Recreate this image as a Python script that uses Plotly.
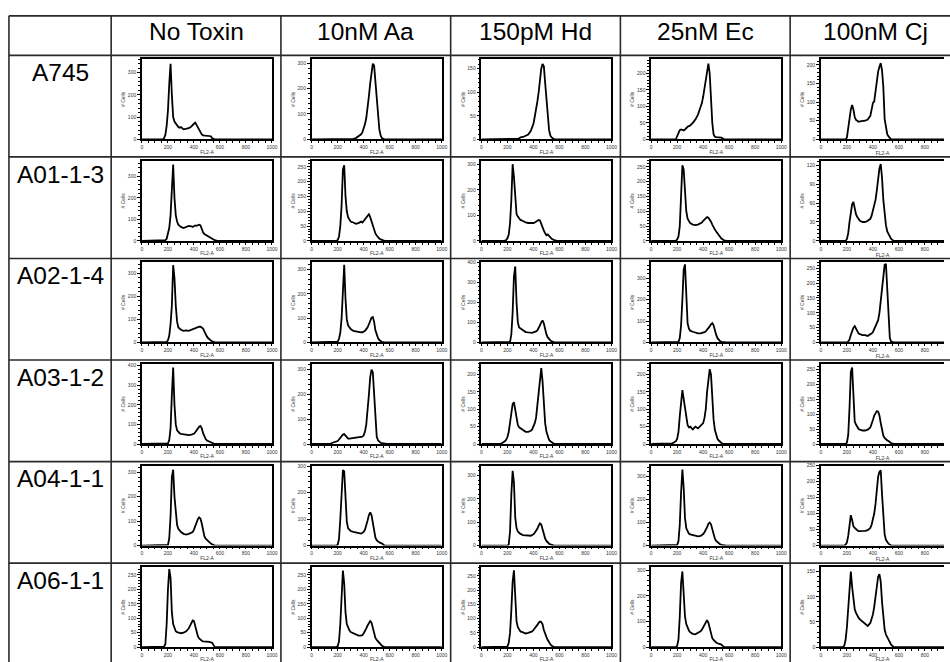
import plotly.graph_objects as go

# ---------------- data ----------------
TREATMENTS = ["No Toxin", "10nM Aa", "150pM Hd", "25nM Ec", "100nM Cj"]
CLONES = ["A745", "A01-1-3", "A02-1-4", "A03-1-2", "A04-1-1", "A06-1-1"]

# FL2-A channel positions shared by all histograms
FL2 = [0, 140, 160, 170, 180, 190, 200, 210, 220, 230,
       240, 250, 260, 270, 280, 290, 300, 320, 340, 360,
       380, 390, 400, 410, 420, 430, 440, 450, 460, 470,
       480, 490, 500, 510, 520, 530, 540, 560, 580, 1000]

# "# Cells" per clone, one list per treatment (same order as TREATMENTS)
A745 = [
    [0,0,0,5,20,60,130,250,340,200, 100,80,70,62,55,52,55,45,48,50, 58,62,70,75,65,50,40,30,22,18, 17,16,15,15,15,14,5,0,0,0],
    [0,0,0,0,0,0,0,0,0,0, 0,0,0,0,0,0,0,2,5,12, 20,28,42,60,85,120,170,220,270,298, 290,230,150,80,40,15,5,0,0,0],
    [0,0,0,0,0,0,0,0,0,0, 0,0,0,0,1,2,4,5,7,10, 18,25,33,48,62,80,100,125,150,160, 155,120,80,45,20,8,4,0,0,0],
    [0,0,0,0,0,0,10,22,28,30, 28,27,30,35,38,40,42,50,60,75, 95,110,130,155,185,215,230,200,120,50, 15,8,7,6,5,5,5,0,0,0],
    [0,0,0,0,0,0,5,25,55,80, 92,80,60,52,48,47,48,48,50,53, 63,80,98,102,130,165,182,195,205,185, 140,55,28,14,8,3,0,0,0,0],
]
A01_1_3 = [
    [0,0,0,0,3,10,30,60,120,250, 355,200,120,90,75,70,65,60,65,70, 68,65,68,72,70,72,75,72,55,40, 32,28,25,20,15,12,8,3,0,0],
    [0,0,0,0,0,0,3,15,50,120, 240,255,150,100,80,72,65,62,58,60, 65,62,68,72,78,85,90,80,65,50, 35,25,18,12,8,5,3,0,0,0],
    [0,0,0,0,0,3,10,25,70,160, 300,250,150,105,95,88,82,78,72,70, 70,68,70,72,75,78,82,80,65,50, 40,30,22,25,18,12,8,3,0,0],
    [0,0,0,0,0,0,5,15,50,150, 255,240,150,100,75,65,60,55,53,55, 58,62,68,72,78,80,78,72,65,55, 45,38,32,25,18,12,8,2,0,0],
    [0,0,0,0,0,0,3,12,30,45, 58,62,50,42,38,35,32,30,30,32, 35,40,48,55,65,80,100,115,122,100, 65,40,25,15,10,6,3,0,0,0],
]
A02_1_4 = [
    [0,0,0,0,0,2,10,30,80,160, 335,280,160,90,65,58,55,50,52,50, 55,58,60,62,65,65,68,68,65,60, 48,35,25,18,12,8,5,0,0,0],
    [0,0,0,0,0,0,3,15,40,100, 220,320,180,95,70,60,55,48,45,42, 42,42,45,48,55,62,75,90,102,105, 85,50,30,18,10,5,2,0,0,0],
    [0,0,0,0,0,0,0,0,3,40, 150,330,380,200,100,75,70,60,52,50, 48,48,50,52,55,60,70,85,100,110, 95,65,40,25,15,10,5,0,0,0],
    [0,0,0,0,0,0,0,3,20,80, 200,340,365,200,90,65,55,50,45,42, 42,43,45,48,52,58,65,75,85,90, 80,55,35,20,12,6,3,0,0,0],
    [0,0,0,0,0,0,0,3,10,25, 40,50,55,45,35,30,28,25,25,22, 28,30,35,45,55,60,75,100,140,190, 240,262,265,180,60,15,3,0,0,0],
]
A03_1_2 = [
    [0,0,0,0,0,0,3,20,80,250, 390,200,100,70,60,55,52,50,48,45, 48,50,52,60,70,80,88,92,80,55, 35,25,18,15,10,8,5,0,0,0],
    [0,0,5,6,8,10,12,18,25,32, 38,40,35,28,22,22,23,25,25,27, 28,30,35,50,80,130,200,270,300,290, 200,80,30,15,8,5,3,0,0,0],
    [0,0,3,5,8,12,20,35,60,90, 115,120,95,70,55,48,45,40,35,35, 38,42,50,60,75,110,160,200,218,180, 110,60,35,20,12,8,5,0,0,0],
    [0,0,2,3,5,8,15,35,80,130, 155,130,100,80,55,48,50,42,50,45, 52,55,60,75,100,150,190,215,200,130, 70,40,25,15,10,6,3,0,0,0],
    [0,0,0,0,0,0,5,30,120,240, 255,130,75,65,55,50,48,45,45,48, 55,65,80,95,105,110,108,95,70,45, 28,20,15,12,10,6,3,0,0,0],
]
A04_1_1 = [
    [0,0,0,0,0,0,3,30,120,280, 310,200,120,85,68,60,55,48,45,48, 52,55,65,80,95,108,115,110,90,60, 38,28,22,18,12,8,5,0,0,0],
    [0,0,0,0,0,0,3,25,100,200, 285,280,150,90,65,58,55,52,50,48, 45,48,52,60,75,95,115,125,115,85, 50,30,20,15,12,10,8,0,0,0],
    [0,0,0,0,0,0,0,5,60,220, 320,270,120,75,60,55,50,45,43,42, 42,45,48,55,62,72,85,95,90,70, 48,30,20,12,8,5,3,0,0,0],
    [0,0,0,0,0,0,3,20,90,230, 330,250,120,75,60,52,48,45,42,40, 42,45,50,58,68,80,95,100,92,70, 45,30,20,14,10,6,3,0,0,0],
    [0,0,0,0,0,3,10,30,70,95, 80,60,55,50,48,45,45,45,46,48, 55,65,80,100,130,180,215,230,235,160, 80,35,18,10,6,3,0,0,0,0],
]
A06_1_1 = [
    [0,0,0,2,10,80,200,270,240,120, 80,65,55,52,50,48,48,50,55,65, 85,92,90,70,50,38,30,25,22,20, 20,20,18,18,18,16,15,0,0,0],
    [0,0,0,0,0,0,3,20,80,180, 265,220,120,80,65,58,52,48,42,40, 40,42,48,55,65,75,85,90,85,65, 45,32,25,20,12,8,5,0,0,0],
    [0,0,0,0,0,0,2,15,50,130, 230,270,150,90,70,60,55,52,48,50, 52,55,60,65,70,78,85,90,88,80, 60,45,35,25,15,10,5,0,0,0],
    [0,0,0,0,0,0,5,30,120,250, 295,200,120,90,75,65,58,52,50,55, 62,68,78,90,100,105,95,75,50,35, 28,22,18,15,14,12,10,0,0,0],
    [0,0,0,0,3,15,40,80,130,150, 120,90,75,68,62,58,55,50,45,42, 48,55,65,80,100,125,140,145,130,90, 55,35,25,20,15,10,5,0,0,0],
]
CELLS = [A745, A01_1_3, A02_1_4, A03_1_2, A04_1_1, A06_1_1]

# y-axis top and major tick step of each histogram
Y_TOP = [
    [360, 315, 170, 243, 215],
    [372, 270, 313, 270, 127],
    [347, 330, 400, 374, 270],
    [408, 323, 230, 230, 267],
    [327, 302, 343, 347, 250],
    [277, 277, 281, 312, 159],
]
Y_STEP = [
    [100, 100, 50, 50, 50],
    [100, 50, 100, 50, 30],
    [100, 100, 100, 100, 50],
    [100, 100, 50, 50, 50],
    [100, 100, 100, 100, 50],
    [50, 50, 50, 100, 50],
]

# ---------------- layout geometry (pixels) ----------------
W, H = 950, 662
TABLE_L, TABLE_T = 8, 13
HEAD_B = 53
LABEL_R = 111
COL_W = 171
ROW_H = 102.8
FRAME_DX = 31          # plot frame left offset inside a cell
FRAME_W = 131          # width of 0..1000 on the FL2-A axis
FRAME_T, FRAME_B = 4, 85

def px(x):
    return x / W

def py(y):
    return 1 - y / H

FONT = "Liberation Sans, Arial, sans-serif"
fig = go.Figure()
layout = dict(
    width=W, height=H, autosize=False,
    margin=dict(l=0, r=0, t=0, b=0),
    paper_bgcolor="white", plot_bgcolor="white",
    showlegend=False,
    shapes=[], annotations=[],
)

n = 0
for r, clone in enumerate(CLONES):
    row_top = HEAD_B + r * ROW_H
    for c, treat in enumerate(TREATMENTS):
        n += 1
        xa = "x" if n == 1 else f"x{n}"
        ya = "y" if n == 1 else f"y{n}"
        left = LABEL_R + c * COL_W + FRAME_DX
        right = left + FRAME_W
        xmax = 1000
        last = False
        if right > W:
            xmax = 1000 * (W - left) / FRAME_W
            right = W
            last = True
        fig.add_trace(go.Scatter(
            x=FL2, y=CELLS[r][c], mode="lines",
            line=dict(color="black", width=1.8),
            xaxis=xa, yaxis=ya, hoverinfo="skip",
        ))
        step = Y_STEP[r][c]
        layout["xaxis" if n == 1 else f"xaxis{n}"] = dict(
            domain=[px(left), px(right)], anchor=ya, range=[0, xmax],
            showline=True, linecolor="black", linewidth=1.5, mirror=True,
            ticks="outside", ticklen=2, tickwidth=1, tickcolor="black",
            tick0=0, dtick=200,
            minor=dict(dtick=50, ticks="outside", ticklen=2, tickcolor="black"),
            tickfont=dict(family=FONT, size=5, color="#333"),
            showgrid=False, zeroline=False, fixedrange=True,
            title=dict(text="FL2-A", font=dict(family=FONT, size=5, color="#333"), standoff=1),
        )
        layout["yaxis" if n == 1 else f"yaxis{n}"] = dict(
            domain=[py(row_top + FRAME_B), py(row_top + FRAME_T)], anchor=xa,
            range=[0, Y_TOP[r][c]],
            showline=True, linecolor="black", linewidth=1.5,
            mirror=False if last else True,
            ticks="outside", ticklen=3, tickwidth=1, tickcolor="black",
            tick0=0, dtick=step,
            minor=dict(dtick=step / 5, ticks="outside", ticklen=2, tickcolor="black"),
            tickfont=dict(family=FONT, size=5, color="#333"),
            showgrid=False, zeroline=False, fixedrange=True,
            title=dict(text="# Cells", font=dict(family=FONT, size=5, color="#333"), standoff=2),
        )

# table lines
LINE = dict(color="#2a2a2a", width=1.6)
v_lines = [TABLE_L, LABEL_R] + [LABEL_R + COL_W * (i + 1) for i in range(len(TREATMENTS))]
for x in v_lines:
    layout["shapes"].append(dict(type="line", xref="paper", yref="paper",
                                 x0=px(x), x1=px(x), y0=py(TABLE_T), y1=py(H + 10), line=LINE))
h_lines = [TABLE_T, HEAD_B] + [HEAD_B + ROW_H * (i + 1) for i in range(len(CLONES))]
for y in h_lines:
    layout["shapes"].append(dict(type="line", xref="paper", yref="paper",
                                 x0=px(TABLE_L), x1=px(W + 20), y0=py(y), y1=py(y), line=LINE))

# header and row labels
for c, treat in enumerate(TREATMENTS):
    layout["annotations"].append(dict(
        text=treat, xref="paper", yref="paper", showarrow=False,
        x=px(LABEL_R + COL_W * c + COL_W / 2), y=py(29), xanchor="center", yanchor="middle",
        font=dict(family=FONT, size=24.5, color="black")))
for r, clone in enumerate(CLONES):
    layout["annotations"].append(dict(
        text=clone, xref="paper", yref="paper", showarrow=False,
        x=px((TABLE_L + LABEL_R) / 2), y=py(HEAD_B + ROW_H * r + 17.5), xanchor="center", yanchor="middle",
        font=dict(family=FONT, size=24.5, color="black")))

fig.update_layout(**layout)
fig.write_html("out.html")
